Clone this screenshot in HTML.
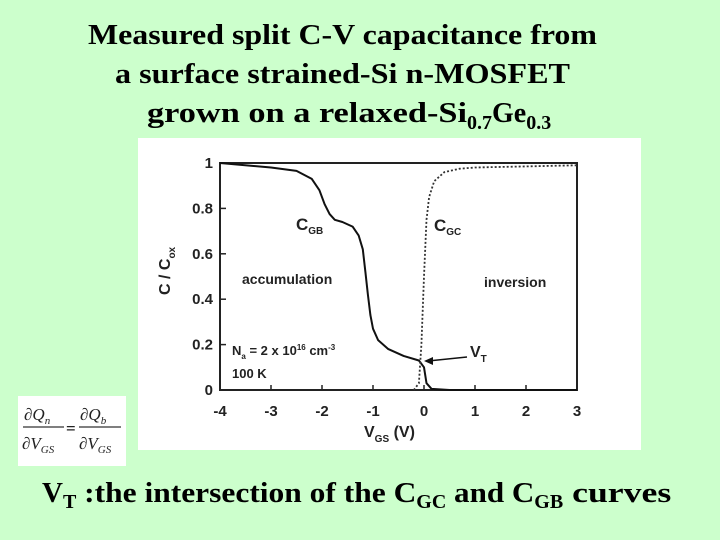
<!DOCTYPE html>
<html><head><meta charset="utf-8"><style>
body{margin:0;width:720px;height:540px;background:#ccffcc;position:relative;overflow:hidden;font-family:"Liberation Serif",serif}
</style></head><body>
<svg width="720" height="540" style="position:absolute;left:0;top:0">
<g font-family="Liberation Serif, serif" font-weight="bold" font-size="28" fill="#000">
<text x="88" y="44" textLength="509" lengthAdjust="spacingAndGlyphs">Measured split C-V capacitance from</text>
<text x="115" y="83" textLength="455" lengthAdjust="spacingAndGlyphs">a surface strained-Si n-MOSFET</text>
<text x="147" y="122"><tspan textLength="320" lengthAdjust="spacingAndGlyphs">grown on a relaxed-Si</tspan><tspan font-size="20" dy="7">0.7</tspan><tspan dy="-7">Ge</tspan><tspan font-size="20" dy="7">0.3</tspan></text>
</g>
<rect x="138" y="138" width="503" height="312" fill="#fff"/>
<g id="plot" font-family="Liberation Sans, sans-serif" font-weight="bold" fill="#222"></g>
<rect x="18" y="396" width="108" height="70" fill="#fff"/>
<g font-family="Liberation Serif, serif" font-style="italic" font-size="17" fill="#222">
<text x="24" y="420">∂Q<tspan font-size="11" dy="4">n</tspan></text>
<line x1="23" y1="427" x2="64" y2="427" stroke="#555" stroke-width="1.5"/>
<text x="22" y="449">∂V<tspan font-size="11" dy="4">GS</tspan></text>
<text x="66" y="434" font-style="normal" font-weight="bold">=</text>
<text x="80" y="420">∂Q<tspan font-size="11" dy="4">b</tspan></text>
<line x1="79" y1="427" x2="121" y2="427" stroke="#555" stroke-width="1.5"/>
<text x="79" y="449">∂V<tspan font-size="11" dy="4">GS</tspan></text>
</g>
<text x="42" y="502" font-family="Liberation Serif, serif" font-weight="bold" font-size="29" fill="#000">V<tspan font-size="20" dy="6">T</tspan><tspan dy="-6" textLength="340" lengthAdjust="spacingAndGlyphs"> :the intersection of the C</tspan><tspan font-size="20" dy="6">GC</tspan><tspan dy="-6" textLength="88" lengthAdjust="spacingAndGlyphs"> and C</tspan><tspan font-size="20" dy="6">GB</tspan><tspan dy="-6" textLength="108" lengthAdjust="spacingAndGlyphs"> curves</tspan></text>
</svg>
<script>
const xTicks=[-4,-3,-2,-1,0,1,2,3];
const yTicks=[0,0.2,0.4,0.6,0.8,1];
const yTickLabels=["0","0.2","0.4","0.6","0.8","1"];
const cgbV=[-4,-3,-2.5,-2.2,-2.05,-1.95,-1.85,-1.75,-1.6,-1.4,-1.28,-1.2,-1.15,-1.1,-1.05,-1,-0.9,-0.7,-0.4,-0.1,0,0.05,0.15,0.5,3];
const cgbC=[1,0.98,0.965,0.93,0.88,0.82,0.775,0.75,0.74,0.72,0.68,0.62,0.52,0.42,0.33,0.27,0.22,0.18,0.15,0.13,0.1,0.03,0.005,0,0];
const cgcV=[-0.2,-0.1,-0.05,0,0.05,0.1,0.2,0.4,0.7,1,3];
const cgcC=[0,0.03,0.2,0.5,0.75,0.85,0.92,0.96,0.975,0.98,0.99];
const X0=220,X1=577,Y0=390,Y1=163;
const sx=v=>X0+(v+4)/7*(X1-X0);
const sy=c=>Y0-c*(Y0-Y1);
const ns="http://www.w3.org/2000/svg";
const g=document.getElementById('plot');
function mk(t,a,txt){const e=document.createElementNS(ns,t);for(const k in a)e.setAttribute(k,a[k]);if(txt!==undefined)e.textContent=txt;g.appendChild(e);return e;}
let e=mk('rect',{x:X0,y:Y1,width:X1-X0,height:Y0-Y1,fill:'none',stroke:'#222','stroke-width':2});


xTicks.forEach(v=>{
 let t=mk('line',{x1:sx(v),x2:sx(v),y1:Y0,y2:Y0-5,stroke:'#222','stroke-width':1.5});
 
 
 let l=mk('text',{x:sx(v),y:Y0+26,'text-anchor':'middle','font-size':15},String(v));
 
 
});
yTicks.forEach((c,i)=>{
 let t=mk('line',{x1:X0,x2:X0+6,y1:sy(c),y2:sy(c),stroke:'#222','stroke-width':1.5});
 
 
 let l=mk('text',{x:X0-7,y:sy(c)+5,'text-anchor':'end','font-size':15},yTickLabels[i]);
 
 
});
function path(vs,cs){return vs.map((v,i)=>(i?'L':'M')+sx(v).toFixed(1)+','+sy(cs[i]).toFixed(1)).join(' ');}
e=mk('path',{d:path(cgbV,cgbC),fill:'none',stroke:'#111','stroke-width':2,'stroke-linejoin':'round'});


e=mk('path',{d:path(cgcV,cgcC),fill:'none',stroke:'#333','stroke-width':1.8,'stroke-dasharray':'2,2'});


function lab(x,y,html,name,fs){const t=mk('text',{x:x,y:y,'font-size':fs||15});t.innerHTML=html;return t;}
lab(296,230,'C<tspan font-size="10" dy="4">GB</tspan>','cgb-label',17);
lab(434,231,'C<tspan font-size="10" dy="4">GC</tspan>','cgc-label',17);
lab(242,284,'accumulation','accumulation-label',14);
lab(484,287,'inversion','inversion-label',14);
lab(470,357,'V<tspan font-size="10" dy="5">T</tspan>','vt-label',16);
lab(232,355,'N<tspan font-size="8" dy="4">a</tspan><tspan dy="-4"> = 2 x 10</tspan><tspan font-size="8" dy="-5">16</tspan><tspan dy="5"> cm</tspan><tspan font-size="8" dy="-5">-3</tspan>','doping-label',13);
lab(232,378,'100 K','temperature-label',13);
e=mk('line',{x1:467,y1:357,x2:428,y2:361,stroke:'#111','stroke-width':1.5});


e=mk('polygon',{points:'424,361 433,357 433,365',fill:'#111'});


let yt=mk('text',{x:0,y:0,'font-size':16,transform:'translate(170,295) rotate(-90)'});
yt.innerHTML='C / C<tspan font-size="10" dy="5">ox</tspan>';


lab(364,437,'V<tspan font-size="10" dy="5">GS</tspan><tspan dy="-5"> (V)</tspan>','x-axis-title',16);
</script>
</body></html>
